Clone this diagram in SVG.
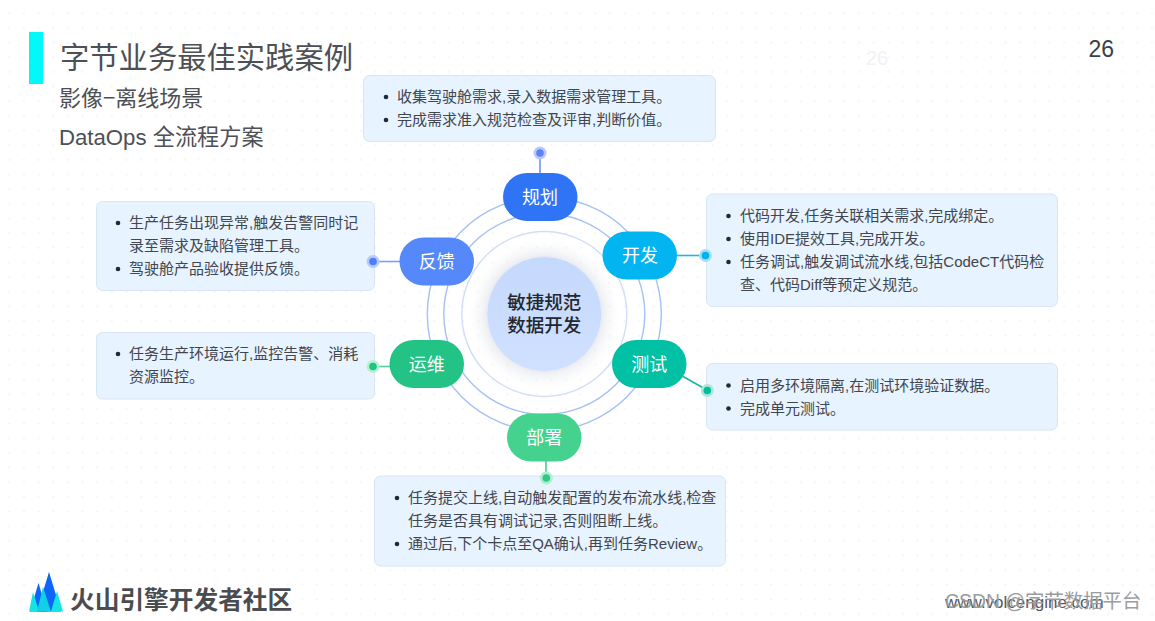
<svg xmlns="http://www.w3.org/2000/svg" width="1155" height="621" viewBox="0 0 1155 621">
<style>
text{font-family:"Liberation Sans","Noto Sans CJK SC",sans-serif}
.card{fill:#e7f3ff;stroke:#d8e5f3;stroke-width:1}
.t{font-size:15px;fill:#42464e}
.b{fill:#1f2a3c}
.pl{font-size:18px;fill:#fff;text-anchor:middle;font-family:"Noto Sans CJK SC",sans-serif}
.ring{fill:none;stroke:#a5c0f3;stroke-width:1.4}
.h{fill:#4d5054;font-family:"Noto Sans CJK SC",sans-serif}
</style>
<defs>
<pattern id="dots" width="14.65" height="14.65" patternUnits="userSpaceOnUse" x="2" y="6"><circle cx="7.3" cy="7.3" r="1" fill="#f0f0f0"/></pattern>
<radialGradient id="halo"><stop offset="0.72" stop-color="#c8ccd8" stop-opacity=".4"/><stop offset="1" stop-color="#fff" stop-opacity="0"/></radialGradient>
<linearGradient id="cg" x1="0" y1="0" x2="0" y2="1"><stop offset="0" stop-color="#c5d9fd"/><stop offset="1" stop-color="#d0e0ff"/></linearGradient>
</defs>
<rect width="1155" height="621" fill="#fff"/>
<rect width="1155" height="621" fill="url(#dots)"/>
<g id="header">
<rect x="29" y="32" width="14" height="52" fill="#00f8f8"/>
<text class="h" x="60" y="68" font-size="29.300">字节业务最佳实践案例</text>
<text class="h" x="59" y="106" font-size="22">影像−离线场景</text>
<text x="59" y="145" font-size="22.200" fill="#4d5054">DataOps 全流程方案</text>
<text x="1088.500" y="57" font-size="23" fill="#3c3f44">26</text>
<text x="866" y="65" font-size="20" fill="#f0f2f5">26</text>
</g>
<g id="connectors" fill="none" stroke-width="1.600">
<path d="M540 153V173" stroke="#6f92f5"/>
<path d="M677 255.500H705" stroke="#1fb6ec"/>
<path d="M683 376.500L707 390" stroke="#19b79c"/>
<path d="M546 461V478" stroke="#48cd8f"/>
<path d="M373 261.500H400" stroke="#7d9df8"/>
<path d="M373 366.500H390" stroke="#58cd9f"/>
</g>
<g id="rings">
<circle cx="544.300" cy="314" r="117" class="ring"/>
<circle cx="544.300" cy="314" r="100.500" class="ring"/>
<circle cx="544.300" cy="314" r="82.500" fill="none" stroke="#d0def9" stroke-width="1.400"/>
</g>
<g id="center">
<circle cx="544.300" cy="314" r="78" fill="url(#halo)"/>
<circle cx="544.300" cy="314" r="57.500" fill="url(#cg)" stroke="#e8edf7"/>
<text x="544.300" y="309" font-size="18.500" font-weight="500" fill="#23272e" text-anchor="middle" style="font-family:'Noto Sans CJK SC',sans-serif">敏捷规范</text>
<text x="544.300" y="332" font-size="18.500" font-weight="500" fill="#23272e" text-anchor="middle" style="font-family:'Noto Sans CJK SC',sans-serif">数据开发</text>
</g>
<g id="node-plan">
<rect x="503" y="173" width="74.500" height="48" rx="24" fill="#2f74f5"/>
<text class="pl" x="540" y="203.500">规划</text>
<circle cx="540" cy="153" r="6.500" fill="#b7c8fb"/><circle cx="540" cy="153" r="3.800" fill="#5c82f5"/>
<rect class="card" x="363.500" y="75.500" width="352" height="66" rx="6"/>
<circle class="b" cx="386" cy="97" r="2.300"/><text class="t" x="397" y="102">收集驾驶舱需求,录入数据需求管理工具。</text>
<circle class="b" cx="386" cy="120" r="2.300"/><text class="t" x="397" y="125">完成需求准入规范检查及评审,判断价值。</text>
</g>
<g id="node-dev">
<rect x="602.500" y="231.500" width="74.500" height="48" rx="24" fill="#02b5f1"/>
<text class="pl" x="640" y="262">开发</text>
<rect class="card" x="706.500" y="194" width="351" height="112.500" rx="6"/>
<circle cx="705.500" cy="255.500" r="6.500" fill="#a6def3"/><circle cx="705.500" cy="255.500" r="3.800" fill="#02b0ec"/>
<circle class="b" cx="728.500" cy="216" r="2.300"/><text class="t" x="740" y="221">代码开发,任务关联相关需求,完成绑定。</text>
<circle class="b" cx="728.500" cy="239" r="2.300"/><text class="t" x="740" y="244">使用IDE提效工具,完成开发。</text>
<circle class="b" cx="728.500" cy="262" r="2.300"/><text class="t" x="740" y="267">任务调试,触发调试流水线,包括CodeCT代码检</text>
<text class="t" x="740" y="290">查、代码Diff等预定义规范。</text>
</g>
<g id="node-test">
<rect x="612" y="340" width="74.500" height="48" rx="24" fill="#01c0a4"/>
<text class="pl" x="649.300" y="370.500">测试</text>
<rect class="card" x="706.500" y="363.500" width="351" height="66.500" rx="6"/>
<circle cx="707.300" cy="390.500" r="6.500" fill="#ace6da"/><circle cx="707.300" cy="390.500" r="3.800" fill="#03bd9f"/>
<circle class="b" cx="728.500" cy="385.500" r="2.300"/><text class="t" x="740" y="391">启用多环境隔离,在测试环境验证数据。</text>
<circle class="b" cx="728.500" cy="408.500" r="2.300"/><text class="t" x="740" y="414">完成单元测试。</text>
</g>
<g id="node-deploy">
<rect x="507" y="413.500" width="74.500" height="48" rx="24" fill="#45d28e"/>
<text class="pl" x="544.300" y="444">部署</text>
<rect class="card" x="374.500" y="476" width="351" height="90" rx="6"/>
<circle cx="546.300" cy="478" r="6.500" fill="#b1edcf"/><circle cx="546.300" cy="478" r="3.800" fill="#2fc987"/>
<circle class="b" cx="397" cy="498" r="2.300"/><text class="t" x="408" y="503">任务提交上线,自动触发配置的发布流水线,检查</text>
<text class="t" x="408" y="526">任务是否具有调试记录,否则阻断上线。</text>
<circle class="b" cx="397" cy="544" r="2.300"/><text class="t" x="408" y="549">通过后,下个卡点至QA确认,再到任务Review。</text>
</g>
<g id="node-ops">
<rect x="389.500" y="340" width="74.500" height="48" rx="24" fill="#22c385"/>
<text class="pl" x="426.800" y="370.500">运维</text>
<rect class="card" x="96.500" y="332.500" width="278" height="66.500" rx="6"/>
<circle cx="373" cy="366.500" r="6.500" fill="#b6f0d3"/><circle cx="373" cy="366.500" r="3.800" fill="#1cc67f"/>
<circle class="b" cx="118" cy="354" r="2.300"/><text class="t" x="129" y="359">任务生产环境运行,监控告警、消耗</text>
<text class="t" x="129" y="382">资源监控。</text>
</g>
<g id="node-feedback">
<rect x="399.500" y="237.500" width="74.500" height="48" rx="24" fill="#5488fb"/>
<text class="pl" x="436.800" y="268">反馈</text>
<rect class="card" x="96.500" y="201.500" width="278" height="89" rx="6"/>
<circle cx="373" cy="261.500" r="6.500" fill="#b6cbfc"/><circle cx="373" cy="261.500" r="3.800" fill="#4d7ffb"/>
<circle class="b" cx="118" cy="223" r="2.300"/><text class="t" x="129" y="228">生产任务出现异常,触发告警同时记</text>
<text class="t" x="129" y="251">录至需求及缺陷管理工具。</text>
<circle class="b" cx="118" cy="269" r="2.300"/><text class="t" x="129" y="274">驾驶舱产品验收提供反馈。</text>
</g>
<g id="logo">
<polygon points="49,572 61,611.500 37,611.500" fill="#0d66f6"/>
<polygon points="38.500,583 47,611.500 30,611.500" fill="#0d66f6"/>
<polygon points="33,592 39,611.500 29,611.500" fill="#14e4e4"/>
<polygon points="57,591 63,611.500 51,611.500" fill="#14e4e4"/>
<polygon points="43,587 51,611.500 37,611.500" fill="#12cfe6"/>
<text x="70" y="609" font-size="24.700" font-weight="700" fill="#4a4c50" style="font-family:'Noto Sans CJK SC',sans-serif">火山引擎开发者社区</text>
</g>
<g id="watermark">
<text x="945" y="608" font-size="17" fill="#55585c">www.volcengine.com</text>
<text x="945" y="608" font-size="19.400" fill="#9a9c9f">CSDN @字节数据平台</text>
</g>
</svg>
